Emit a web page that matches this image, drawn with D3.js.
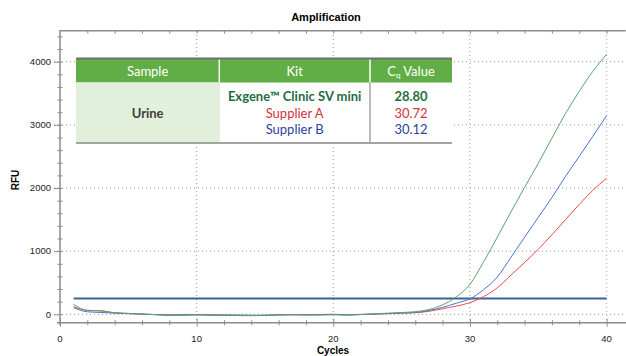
<!DOCTYPE html>
<html>
<head>
<meta charset="utf-8">
<script src="https://cdn.jsdelivr.net/npm/d3@7"></script>
<style>
  body { margin: 0; background: #fff; }
  svg { display: block; }
</style>
</head>
<body>
<svg id="chart" width="626" height="356"></svg>
<script>
// data
const cycles = d3.range(1, 41);
const exgeneRfu = [158, 63, 58, 22, 12, 3, -5, -20, -15, -8, -10, -12, -15, -18, -14, -8, -5, -8, -10, -6,
  -12, -3, 8, 18, 28, 42, 75, 150, 275, 475, 830, 1220, 1620, 2010, 2390, 2790, 3180, 3530, 3850, 4117];
const supplierARfu = [120, 62, 52, 25, 15, 2, -5, -10, -12, -8, -15, -18, -20, -22, -15, -10, -8, -12, -10, -5,
  -10, -5, 2, 10, 18, 25, 48, 88, 130, 184, 280, 420, 620, 820, 1030, 1260, 1500, 1740, 1965, 2155];
const supplierBRfu = [105, 40, 30, 18, 10, 3, -5, -10, -8, -5, -8, -10, -12, -15, -18, -10, -6, -5, -3, 0,
  -8, -2, 5, 12, 20, 30, 60, 110, 175, 245, 390, 590, 900, 1220, 1535, 1850, 2185, 2500, 2820, 3145];
const threshold = 250;

const sampleName = "Urine";
const kits = ["Exgene™ Clinic SV mini", "Supplier A", "Supplier B"];
const cqValues = ["28.80", "30.72", "30.12"];

const xTicks = [0, 10, 20, 30, 40];
const yTicks = [0, 1000, 2000, 3000, 4000];

const lineColors = ["#5aa469", "#f04b4b", "#4a74cc"];
const textColors = ["#1f6e3f", "#d2343c", "#2f43a0"];

const svg = d3.select("#chart");

const x = d3.scaleLinear().domain([0, 41.4]).range([60, 625.7]);
const y = d3.scaleLinear().domain([-133, 4491]).range([322.7, 30.7]);

const axisColor = "#8c8c8c";
const gridColor = "#9a9a9a";

// grid lines
svg.append("g").selectAll("line").data(yTicks).join("line")
  .attr("x1", 54).attr("x2", 626)
  .attr("y1", d => y(d)).attr("y2", d => y(d))
  .attr("stroke", gridColor).attr("stroke-width", 1).attr("stroke-dasharray", "1,3");

svg.append("g").selectAll("line").data(xTicks.slice(1)).join("line")
  .attr("x1", d => x(d)).attr("x2", d => x(d))
  .attr("y1", 31).attr("y2", 322)
  .attr("stroke", (d, i) => i === 3 ? "#c4c4c4" : gridColor)
  .attr("stroke-width", (d, i) => i === 3 ? 1.5 : 1)
  .attr("stroke-dasharray", "1,3");

// left axis
const yAxis = svg.append("g")
  .attr("transform", "translate(60,0)")
  .call(d3.axisLeft(y).tickValues(d3.range(0, 4401, 200)).tickSize(3).tickFormat(""));
yAxis.select(".domain").remove();
yAxis.selectAll(".tick line").attr("x2", 2.5).attr("x1", -2.5).attr("stroke", axisColor);
yAxis.selectAll(".tick").filter(d => d % 1000 === 0).select("line").attr("x1", -6);

svg.append("g").selectAll("text").data(yTicks).join("text")
  .attr("x", 51).attr("y", d => y(d) + 3.3)
  .attr("text-anchor", "end")
  .attr("font-family", "Liberation Sans, Arial, sans-serif")
  .attr("font-size", 9.5).attr("fill", "#222")
  .text(d => d);

// bottom axis
const xAxis = svg.append("g")
  .attr("transform", "translate(0,322.7)")
  .call(d3.axisBottom(x).tickValues(d3.range(0, 41, 2)).tickSize(3).tickFormat(""));
xAxis.select(".domain").remove();
xAxis.selectAll(".tick line").attr("y1", -2.5).attr("y2", 2.5).attr("stroke", axisColor);
xAxis.selectAll(".tick").filter(d => d % 10 === 0).select("line").attr("y1", -4).attr("y2", 4);

svg.append("g").selectAll("text").data(xTicks).join("text")
  .attr("x", d => x(d)).attr("y", 341.5)
  .attr("text-anchor", "middle")
  .attr("font-family", "Liberation Sans, Arial, sans-serif")
  .attr("font-size", 9.5).attr("fill", "#222")
  .text(d => d);

// top ticks
const topAxis = svg.append("g")
  .attr("transform", "translate(0,30.7)")
  .call(d3.axisTop(x).tickValues(d3.range(2, 41, 2)).tickSize(3).tickFormat(""));
topAxis.select(".domain").remove();
topAxis.selectAll(".tick line").attr("y1", 0).attr("y2", 3).attr("stroke", axisColor);

// frame
svg.append("path")
  .attr("d", `M${x.range()[1]},30.7H60V325M57,322.7H626`)
  .attr("fill", "none").attr("stroke", axisColor).attr("stroke-width", 1.5);

// threshold
svg.append("line")
  .attr("x1", x(1)).attr("x2", x(40))
  .attr("y1", y(threshold)).attr("y2", y(threshold))
  .attr("stroke", "#3f6294").attr("stroke-width", 2);

// amplification curves
const line = d3.line()
  .x((d, i) => x(cycles[i]))
  .y(d => y(d))
  .curve(d3.curveMonotoneX);

svg.append("g").selectAll("path")
  .data([supplierARfu, supplierBRfu, exgeneRfu]).join("path")
  .attr("d", line)
  .attr("fill", "none")
  .attr("stroke", (d, i) => [lineColors[1], lineColors[2], lineColors[0]][i])
  .attr("stroke-width", 1);

// titles
svg.append("text")
  .attr("x", 326).attr("y", 21)
  .attr("text-anchor", "middle")
  .attr("font-family", "Liberation Sans, Arial, sans-serif")
  .attr("font-size", 11).attr("font-weight", "bold")
  .text("Amplification");

svg.append("text")
  .attr("x", 333).attr("y", 354)
  .attr("text-anchor", "middle")
  .attr("font-family", "Liberation Sans, Arial, sans-serif")
  .attr("font-size", 10).attr("font-weight", "bold")
  .text("Cycles");

svg.append("text")
  .attr("transform", "translate(19,180) rotate(-90)")
  .attr("text-anchor", "middle")
  .attr("font-family", "Liberation Sans, Arial, sans-serif")
  .attr("font-size", 10).attr("font-weight", "bold")
  .text("RFU");

// table
const tbl = svg.append("g");
const colX = [76, 219.3, 370, 452];
const headY = 59, bodyY = 82.5, bottomY = 143;
const tFont = "Lato, Open Sans, sans-serif";

tbl.append("rect").attr("x", colX[0]).attr("y", headY).attr("width", colX[3] - colX[0])
  .attr("height", bottomY - headY).attr("fill", "#fff");
tbl.append("rect").attr("x", colX[0]).attr("y", headY).attr("width", colX[3] - colX[0])
  .attr("height", bodyY - headY).attr("fill", "#62ae46");
tbl.append("rect").attr("x", colX[0]).attr("y", bodyY).attr("width", colX[1] - colX[0])
  .attr("height", bottomY - bodyY).attr("fill", "#e2efda");

tbl.append("line").attr("x1", colX[1]).attr("x2", colX[1]).attr("y1", headY).attr("y2", bodyY)
  .attr("stroke", "#fff").attr("stroke-width", 1.5);
tbl.append("line").attr("x1", colX[2]).attr("x2", colX[2]).attr("y1", headY).attr("y2", bodyY)
  .attr("stroke", "#fff").attr("stroke-width", 1.5);
tbl.append("line").attr("x1", colX[1]).attr("x2", colX[1]).attr("y1", bodyY).attr("y2", bottomY)
  .attr("stroke", "#e6e6e6").attr("stroke-width", 1);
tbl.append("line").attr("x1", colX[2]).attr("x2", colX[2]).attr("y1", bodyY).attr("y2", bottomY)
  .attr("stroke", "#a6a6a6").attr("stroke-width", 1.5);
tbl.append("line").attr("x1", colX[0]).attr("x2", colX[3]).attr("y1", headY - 0.5).attr("y2", headY - 0.5)
  .attr("stroke", "#6e6e6e").attr("stroke-width", 2);
tbl.append("line").attr("x1", colX[0]).attr("x2", colX[3]).attr("y1", bottomY).attr("y2", bottomY)
  .attr("stroke", "#a3a3a3").attr("stroke-width", 2);

const headers = ["Sample", "Kit", null];
const headCx = [(colX[0] + colX[1]) / 2, (colX[1] + colX[2]) / 2, (colX[2] + colX[3]) / 2];
headers.forEach((h, i) => {
  const t = tbl.append("text")
    .attr("x", headCx[i]).attr("y", 75.5)
    .attr("text-anchor", "middle")
    .attr("font-family", tFont).attr("font-size", 13).attr("fill", "#fff");
  if (h) t.text(h);
  else {
    t.append("tspan").text("C");
    t.append("tspan").attr("font-size", 8).attr("dy", 2).text("q");
    t.append("tspan").attr("dy", -2).text(" Value");
  }
});

tbl.append("text")
  .attr("x", headCx[0]).attr("y", 117.5)
  .attr("text-anchor", "middle")
  .attr("font-family", tFont).attr("font-size", 13).attr("font-weight", "bold")
  .attr("fill", "#404040")
  .text(sampleName);

const rowY = [101, 117.5, 134];
tbl.append("g").selectAll("text").data(kits).join("text")
  .attr("x", headCx[1]).attr("y", (d, i) => rowY[i])
  .attr("text-anchor", "middle")
  .attr("font-family", tFont).attr("font-size", 13)
  .attr("font-weight", (d, i) => i === 0 ? "bold" : "normal")
  .attr("fill", (d, i) => textColors[i])
  .text(d => d);

tbl.append("g").selectAll("text").data(cqValues).join("text")
  .attr("x", headCx[2]).attr("y", (d, i) => rowY[i])
  .attr("text-anchor", "middle")
  .attr("font-family", tFont).attr("font-size", 13)
  .attr("font-weight", (d, i) => i === 0 ? "bold" : "normal")
  .attr("fill", (d, i) => textColors[i])
  .text(d => d);
</script>
</body>
</html>
